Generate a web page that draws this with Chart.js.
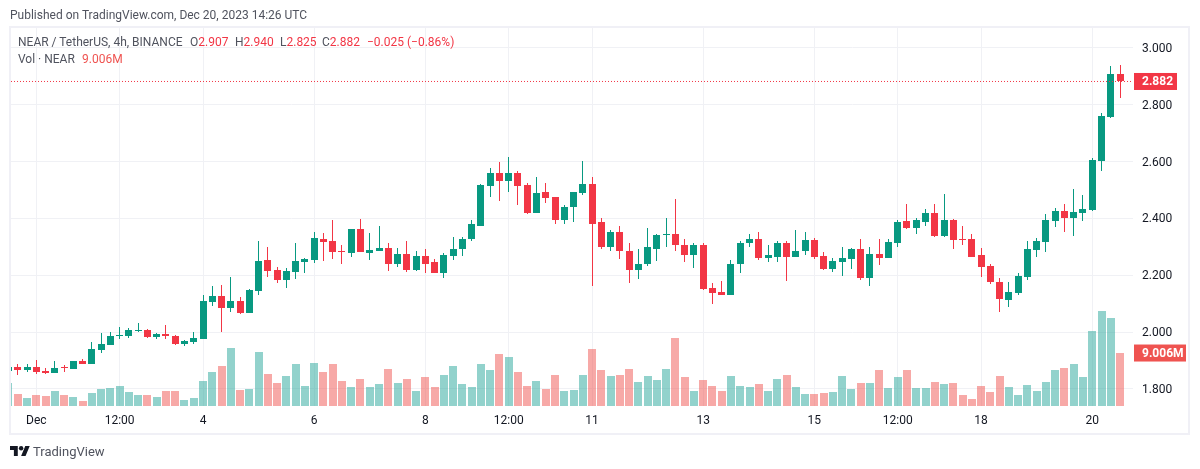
<!DOCTYPE html>
<html>
<head>
<meta charset="utf-8">
<title>NEAR / TetherUS</title>
<script src="https://cdn.jsdelivr.net/npm/chart.js@4/dist/chart.umd.min.js"></script>
<style>
html, body { margin: 0; padding: 0; background: #fff; width: 1200px; height: 469px; overflow: hidden; }
body, canvas { font-family: Roboto, sans-serif; }
#chart { position: absolute; left: 0; top: 0; }
#frame { position: absolute; left: 9px; top: 26px; width: 1181px; height: 409px; box-sizing: border-box; border: 2px solid #f0f0f6; }
.t { position: absolute; font-size: 12px; line-height: 16px; color: #50535e; white-space: nowrap; }
.r { color: #F23645; }
.v { color: #EF5350; }
#logo { position: absolute; left: 10px; top: 446px; }
</style>
</head>
<body>
<div id="frame"></div>
<canvas id="chart" width="1200" height="469"></canvas>
<div class="t" style="left:10px;top:7px">Published on TradingView.com, Dec 20, 2023 14:26 UTC</div>
<div class="t" style="left:18px;top:34px">NEAR / TetherUS, 4h, BINANCE</div>
<div class="t" style="left:190px;top:34px">O<span class="r">2.907</span></div>
<div class="t" style="left:235px;top:34px">H<span class="r">2.940</span></div>
<div class="t" style="left:280px;top:34px">L<span class="r">2.825</span></div>
<div class="t" style="left:322px;top:34px">C<span class="r">2.882</span></div>
<div class="t r" style="left:367px;top:34px">−0.025 (−0.86%)</div>
<div class="t" style="left:18px;top:51px">Vol · NEAR</div>
<div class="t v" style="left:82px;top:51px">9.006M</div>
<svg id="logo" width="20" height="10" viewBox="0 4 36 18"><path fill="#131722" d="M14 22H7V11H0V4h14v18zM28 22h-8l7.5-18h8L28 22z"/><circle fill="#131722" cx="20" cy="8" r="4"/></svg>
<div class="t" style="left:33px;top:444px;font-size:13px">TradingView</div>
<script>
var opens = [1.864,1.878,1.868,1.878,1.864,1.857,1.878,1.871,1.899,1.889,1.938,1.956,1.987,1.987,2.005,2.008,1.984,1.994,1.987,1.959,1.966,
  1.977,2.106,2.128,2.085,2.110,2.068,2.145,2.254,2.219,2.184,2.212,2.247,2.254,2.328,2.321,2.285,2.278,2.363,2.278,2.285,2.296,2.240,
  2.276,2.220,2.269,2.248,2.209,2.269,2.291,2.326,2.375,2.513,2.559,2.531,2.559,2.516,2.418,2.492,2.474,2.393,2.439,2.488,2.520,2.386,2.301,2.354,2.287,2.220,2.238,2.294,2.340,2.344,2.308,2.273,2.305,2.156,2.142,2.132,2.238,2.312,2.329,2.262,2.266,2.315,2.266,
  2.285,2.324,2.268,2.222,2.247,2.257,2.292,2.191,2.275,2.261,2.313,2.391,2.366,2.387,2.419,2.338,2.394,2.328,2.328,2.271,2.233,2.177,2.113,2.138,2.194,2.289,2.317,2.391,2.426,2.401,2.419,2.429,2.601,2.756,2.907];
var highs = [1.882,1.889,1.889,1.903,1.875,1.899,1.885,1.899,1.906,1.966,1.998,2.001,2.019,2.015,2.033,2.012,1.998,2.026,1.991,1.973,2.001,
  2.131,2.163,2.166,2.194,2.124,2.152,2.321,2.299,2.229,2.226,2.314,2.261,2.352,2.349,2.394,2.306,2.363,2.398,2.349,2.373,2.314,2.296,
  2.322,2.287,2.291,2.259,2.280,2.333,2.333,2.393,2.520,2.576,2.598,2.615,2.566,2.523,2.545,2.523,2.474,2.449,2.492,2.601,2.545,2.400,2.358,2.372,2.312,2.291,2.365,2.347,2.400,2.467,2.329,2.315,2.312,2.174,2.181,2.255,2.319,2.344,2.351,2.305,2.322,2.322,2.358,
  2.352,2.331,2.282,2.261,2.299,2.296,2.328,2.299,2.328,2.328,2.394,2.450,2.401,2.433,2.450,2.485,2.398,2.373,2.345,2.296,2.240,2.191,2.177,2.208,2.321,2.331,2.415,2.436,2.450,2.503,2.482,2.612,2.770,2.938,2.940];
var lows = [1.861,1.850,1.861,1.854,1.854,1.857,1.861,1.871,1.889,1.889,1.927,1.956,1.977,1.980,2.001,1.980,1.977,1.977,1.956,1.952,1.959,
  1.977,2.092,2.001,2.071,2.064,2.068,2.131,2.194,2.173,2.156,2.187,2.208,2.243,2.250,2.257,2.240,2.264,2.282,2.254,2.285,2.215,2.229,
  2.213,2.216,2.209,2.209,2.192,2.255,2.269,2.319,2.375,2.474,2.460,2.492,2.446,2.414,2.418,2.453,2.382,2.382,2.389,2.481,2.163,2.294,2.287,2.259,2.174,2.188,2.234,2.252,2.298,2.287,2.248,2.224,2.149,2.100,2.132,2.132,2.209,2.298,2.255,2.245,2.248,2.181,2.266,
  2.271,2.257,2.219,2.212,2.198,2.222,2.184,2.163,2.236,2.261,2.299,2.363,2.345,2.373,2.335,2.335,2.292,2.306,2.264,2.194,2.170,2.071,2.089,2.131,2.184,2.264,2.282,2.370,2.352,2.338,2.391,2.426,2.566,2.752,2.825];
var closes = [1.878,1.868,1.878,1.861,1.857,1.875,1.875,1.899,1.889,1.942,1.959,1.987,1.991,2.008,2.008,1.984,1.994,1.987,1.959,1.970,1.980,
  2.110,2.128,2.085,2.110,2.068,2.149,2.250,2.215,2.184,2.215,2.250,2.257,2.331,2.317,2.282,2.282,2.363,2.282,2.289,2.296,2.240,2.275,
  2.220,2.269,2.241,2.209,2.273,2.294,2.326,2.379,2.516,2.559,2.531,2.559,2.513,2.418,2.488,2.471,2.393,2.442,2.492,2.520,2.382,2.301,2.354,2.284,2.220,2.241,2.298,2.340,2.344,2.305,2.273,2.305,2.153,2.139,2.132,2.241,2.315,2.329,2.262,2.273,2.315,2.266,2.287,
  2.324,2.264,2.222,2.250,2.261,2.292,2.191,2.275,2.261,2.317,2.387,2.366,2.394,2.419,2.338,2.394,2.324,2.324,2.264,2.229,2.177,2.117,2.142,2.198,2.292,2.321,2.394,2.426,2.401,2.422,2.433,2.605,2.759,2.910,2.882];
var volumes = [3.91,2.04,1.36,1.87,1.70,2.55,1.87,1.53,0.85,2.21,2.89,3.06,3.40,2.38,1.87,1.87,1.53,2.55,2.55,1.02,1.36,
  4.25,5.78,6.80,9.87,2.72,2.89,9.19,5.44,3.91,5.10,7.14,3.40,7.31,5.78,7.14,4.25,3.23,4.59,3.23,3.74,6.29,3.91,
  4.59,2.55,4.93,3.23,5.27,6.80,3.74,3.23,7.14,6.12,8.85,8.33,5.78,3.40,4.25,2.89,5.27,2.55,2.72,5.27,9.70,6.12,5.10,5.27,6.29,4.08,5.10,4.42,6.29,11.57,4.93,2.55,4.42,3.40,2.55,5.10,3.40,3.23,3.74,2.55,4.59,5.27,3.23,
  2.04,2.04,2.21,2.38,5.10,2.89,3.91,3.91,6.12,3.06,4.93,6.12,3.06,3.06,4.08,3.74,3.91,1.87,1.19,3.40,2.38,5.10,3.23,1.87,3.57,2.55,4.08,6.12,6.46,7.14,4.93,12.76,16.16,14.97,9.006];
var xTickIndex = [3,12,21,33,45,54,63,75,87,96,105,117];
var xTickLabels = ["Dec","12:00","4","6","8","12:00","11","13","15","12:00","18","20"];
var priceTicks = [3.0,2.8,2.6,2.4,2.2,2.0,1.8];
var lastPrice = 2.882;
var lastVolume = 9.006;

var UP = "#089981", DOWN = "#F23645";
var VOL_UP = "rgba(38,166,154,0.5)", VOL_DOWN = "rgba(239,83,80,0.5)";
var GRID = "#f0f1f5";
var xMin = 0.27, xMax = 121.4;

var isUp = opens.map(function(o, i) { return closes[i] >= o; });
var candleColors = isUp.map(function(u) { return u ? UP : DOWN; });
var volumeColors = isUp.map(function(u) { return u ? VOL_UP : VOL_DOWN; });

// snap bars to whole pixels so wicks and bodies stay crisp
var snapPlugin = {
    id: "snap",
    beforeDatasetsDraw: function(chart) {
        chart.data.datasets.forEach(function(ds, d) {
            if (ds.type === "line") return;
            var odd = ds.barThickness % 2 === 1;
            chart.getDatasetMeta(d).data.forEach(function(el) {
                el.x = odd ? Math.floor(el.x) + 0.5 : Math.round(el.x);
                el.y = Math.round(el.y);
                el.base = Math.round(el.base);
                if (el.base === el.y) el.base = el.y + 1;
            });
        });
    }
};

// price tags sitting on the right axis
var tagPlugin = {
    id: "tags",
    afterDraw: function(chart) {
        var ctx = chart.ctx;
        function tag(text, y, w, color) {
            ctx.save();
            ctx.fillStyle = color;
            ctx.fillRect(1134, y - 8.5, w, 17);
            ctx.fillStyle = "#fff";
            ctx.font = "bold 12px Roboto, sans-serif";
            ctx.textBaseline = "middle";
            ctx.fillText(text, 1142, y + 0.5);
            ctx.restore();
        }
        tag(lastPrice.toFixed(3), chart.scales.y.getPixelForValue(lastPrice), 43, DOWN);
        tag(lastVolume.toFixed(3) + "M", chart.scales.vol.getPixelForValue(lastVolume), 52, "#EF5350");
    }
};

new Chart(document.getElementById("chart").getContext("2d"), {
    type: "bar",
    data: {
        datasets: [
            {
                type: "line",
                data: [{x: xMin, y: lastPrice}, {x: xMax, y: lastPrice}],
                borderColor: DOWN,
                borderWidth: 1,
                borderDash: [1, 2],
                pointRadius: 0,
                yAxisID: "y",
                order: 0
            },
            {
                data: opens.map(function(o, i) { return {x: i, y: [o, closes[i]]}; }),
                backgroundColor: candleColors,
                barThickness: 7,
                grouped: false,
                inflateAmount: 0,
                yAxisID: "y",
                order: 1
            },
            {
                data: lows.map(function(l, i) { return {x: i, y: [l, highs[i]]}; }),
                backgroundColor: candleColors,
                barThickness: 1,
                grouped: false,
                inflateAmount: 0,
                yAxisID: "y",
                order: 2
            },
            {
                data: volumes.map(function(v, i) { return {x: i, y: v}; }),
                backgroundColor: volumeColors,
                barThickness: 8,
                grouped: false,
                inflateAmount: 0,
                yAxisID: "vol",
                order: 3
            }
        ]
    },
    options: {
        responsive: false,
        animation: false,
        events: [],
        layout: { padding: { left: 11, top: 28, right: 0, bottom: 0 } },
        plugins: { legend: { display: false }, title: { display: false }, tooltip: { enabled: false } },
        scales: {
            x: {
                type: "linear",
                offset: false,
                min: xMin,
                max: xMax,
                afterBuildTicks: function(scale) {
                    scale.ticks = xTickIndex.map(function(v) { return {value: v}; });
                },
                afterFit: function(scale) { scale.height = 63; },
                grid: { color: GRID, drawTicks: false, offset: false },
                border: { display: false },
                ticks: {
                    autoSkip: false,
                    maxRotation: 0,
                    padding: 8,
                    color: "#131722",
                    font: { size: 12, family: "Roboto, sans-serif" },
                    callback: function(v) { return xTickLabels[xTickIndex.indexOf(v)]; }
                }
            },
            y: {
                position: "right",
                min: 1.7400,
                max: 3.0702,
                afterBuildTicks: function(scale) {
                    scale.ticks = priceTicks.map(function(v) { return {value: v}; });
                },
                afterFit: function(scale) { scale.width = 67; },
                grid: { color: GRID, drawTicks: false },
                border: { display: false },
                ticks: {
                    padding: 9,
                    labelOffset: 1,
                    color: "#131722",
                    font: { size: 12, family: "Roboto, sans-serif" },
                    callback: function(v) { return v.toFixed(3); }
                }
            },
            vol: {
                display: false,
                position: "right",
                min: 0,
                max: 64.26
            }
        }
    },
    plugins: [snapPlugin, tagPlugin]
});
</script>
</body>
</html>
